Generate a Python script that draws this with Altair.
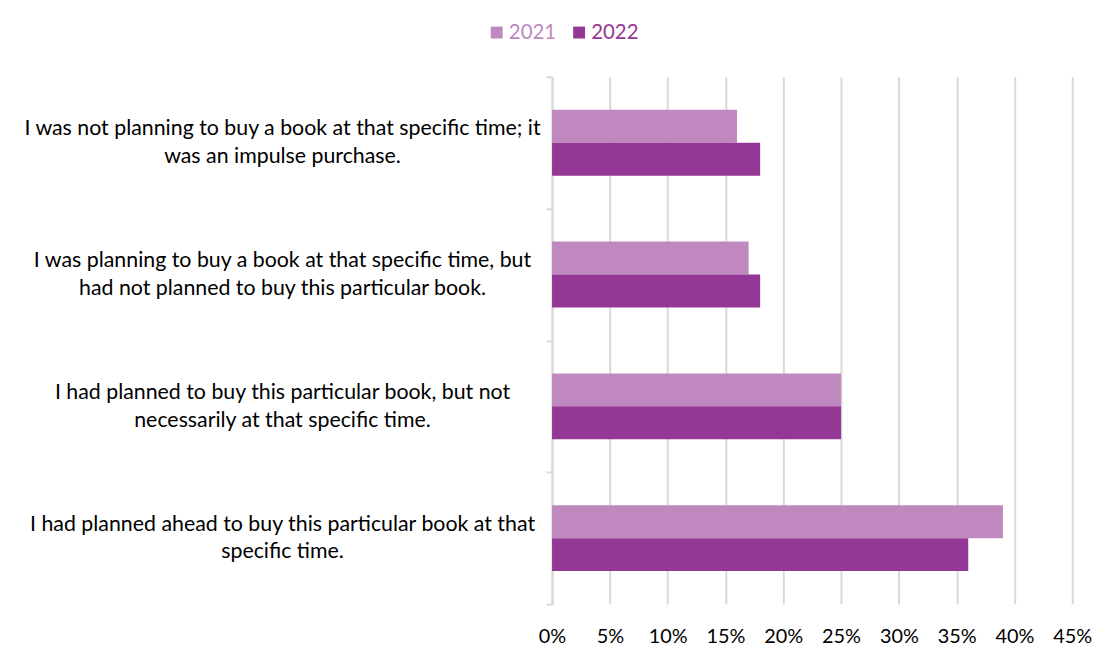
import altair as alt
import pandas as pd

# survey answers, top to bottom as in the chart
questions = [
    "I was not planning to buy a book at that specific time; it\nwas an impulse purchase.",
    "I was planning to buy a book at that specific time, but\nhad not planned to buy this particular book.",
    "I had planned to buy this particular book, but not\nnecessarily at that specific time.",
    "I had planned ahead to buy this particular book at that\nspecific time.",
]
years = ["2021", "2022"]
share_2021 = [0.16, 0.17, 0.25, 0.39]
share_2022 = [0.18, 0.18, 0.25, 0.36]
colors = ["#BF88BF", "#953795"]
x_ticks = [0, 0.05, 0.10, 0.15, 0.20, 0.25, 0.30, 0.35, 0.40, 0.45]

rows = []
for q, a, b in zip(questions, share_2021, share_2022):
    rows.append({"question": q, "year": "2021", "share": a})
    rows.append({"question": q, "year": "2022", "share": b})
df = pd.DataFrame(rows)

FONT = "Lato"
GRID = "#D9D9D9"

bars = alt.Chart(df).mark_bar().encode(
    x=alt.X(
        "share:Q",
        scale=alt.Scale(domain=[0, 0.45], nice=False),
        axis=alt.Axis(
            title=None,
            values=x_ticks,
            format=".0%",
            domain=False,
            ticks=False,
            grid=True,
            gridColor=GRID,
            gridWidth=2,
            labelFont=FONT,
            labelFontSize=20,
            labelColor="#000000",
            labelPadding=23,
            labelFlush=False,
        ),
    ),
    y=alt.Y(
        "question:N",
        sort=questions,
        scale=alt.Scale(paddingInner=0, paddingOuter=0),
        axis=alt.Axis(
            title=None,
            labelExpr="split(datum.label, '\\n')",
            labelAlign="center",
            labelBaseline="middle",
            labelPadding=266,
            labelOffset=-14,
            labelLineHeight=28,
            labelLimit=700,
            labelFont=FONT,
            labelFontSize=21.5,
            labelColor="#000000",
            tickBand="extent",
            tickSize=6,
            tickWidth=2,
            tickColor=GRID,
            domainColor=GRID,
            domainWidth=2,
            grid=False,
            minExtent=548,
            maxExtent=548,
        ),
    ),
    yOffset=alt.YOffset(
        "year:N",
        sort=years,
        scale=alt.Scale(paddingInner=0, paddingOuter=1),
    ),
    color=alt.Color(
        "year:N",
        sort=years,
        scale=alt.Scale(domain=years, range=colors),
        legend=alt.Legend(
            title=None,
            orient="none",
            direction="horizontal",
            legendX=-66,
            legendY=-55,
            padding=0,
            symbolType="square",
            symbolSize=144,
            symbolStrokeWidth=0,
            symbolOpacity=1,
            labelFont=FONT,
            labelFontSize=20.5,
            labelOffset=2,
            columnPadding=12,
            labelColor=alt.ExprRef(
                expr="datum.label === '2021' ? '#BF88BF' : '#953795'"
            ),
        ),
    ),
)

chart = bars.properties(
    width=524,
    height=531,
    padding={"left": 0, "top": 12, "right": 20, "bottom": 10},
    background="white",
).configure_view(
    strokeOpacity=0
)

chart.save("out.html", embed_options={"renderer": "svg", "actions": False})
